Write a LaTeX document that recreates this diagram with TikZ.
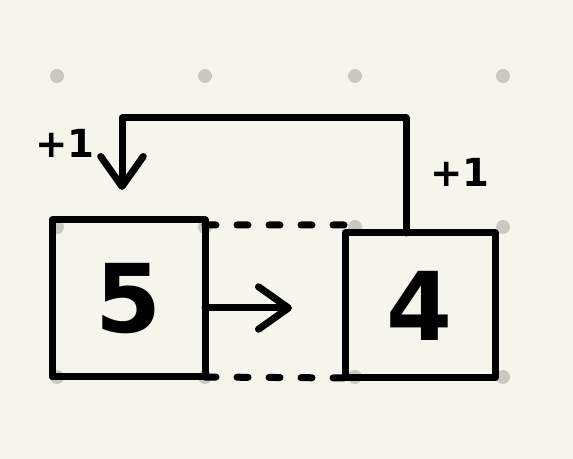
\documentclass[tikz,border=0pt]{standalone}
\usepackage{fontspec}
\setmainfont{DejaVu Sans}
\usetikzlibrary{arrows.meta}
\definecolor{paper}{HTML}{F5F5EB}
\definecolor{griddot}{HTML}{C9C9C1}
\begin{document}
\begin{tikzpicture}[
    ink/.style={line width=0.14cm, line cap=round, line join=round},
    cell/.style={ink, draw, outer sep=0pt, minimum width=#1, font=\fontsize{54}{56}\selectfont\bfseries, inner sep=0pt},
    flow/.style={ink, -{Straight Barb[length=0.6cm, width=0.85cm, round]}},
    gap/.style={ink, dash pattern=on 0.22cm off 0.42cm},
    inc/.style={font=\fontsize{22}{24}\selectfont\bfseries}
  ]
        \fill[paper] (0,0) rectangle (11.46,9.18);
        \useasboundingbox (0,0) rectangle (11.46,9.18);
        \foreach \x in {1.14,4.10,7.10,10.06}
            \foreach \y in {1.64,4.64,7.66}
                \fill[griddot] (\x,\y) circle (0.14);
        \node[cell=3.06cm, minimum height=3.14cm] (five) at (2.57,3.21) {5};
        \node[cell=3.00cm, minimum height=2.90cm] (four) at (8.40,3.07) {4};
        \coordinate (tip) at (5.84,3.02);
        \coordinate (drop) at (2.44,5.38);
        \draw[flow] (five.east |- tip) -- (tip);
        \draw[gap] ([yshift=-0.1cm]five.north east) -- ([yshift=0.16cm]four.north west);
        \draw[gap] (five.south east) -- (four.south west);
        \draw[flow] ([xshift=-0.28cm]four.north) -- ++(0,2.3) -| (drop);
        \node[inc] (incleft) at (1.30,6.32) {+1};
        \node[inc] (incright) at (9.20,5.74) {+1};
    \end{tikzpicture}
\end{document}
